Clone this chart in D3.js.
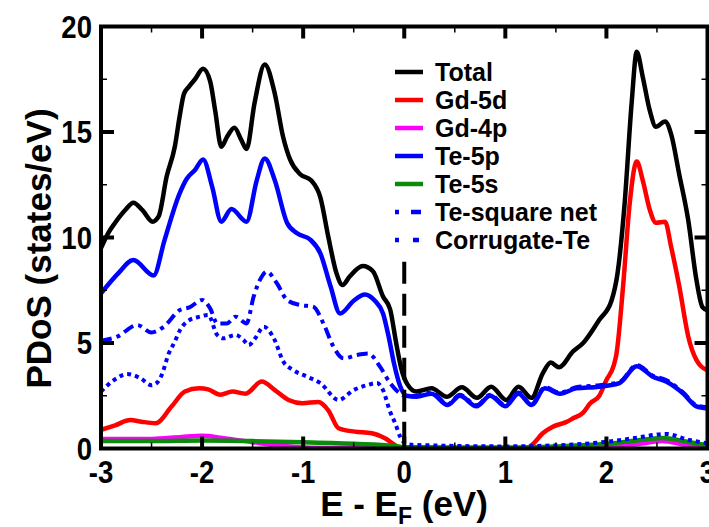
<!DOCTYPE html>
<html>
<head>
<meta charset="utf-8">
<script src="https://cdnjs.cloudflare.com/ajax/libs/d3/7.8.5/d3.min.js"></script>
<style>
  html, body { margin: 0; padding: 0; background: #fff; }
  svg { display: block; font-family: "Liberation Sans", Arial, Helvetica, sans-serif; font-weight: bold; }
</style>
</head>
<body>
<div id="chart"></div>
<script>
// energy (eV) vs PDoS (states/eV)
const total = [[-3.0,9.5],[-2.93,10.2],[-2.86,10.7],[-2.76,11.3],[-2.68,11.65],[-2.59,11.3],[-2.49,10.75],[-2.43,11.0],[-2.35,12.9],[-2.27,14.3],[-2.22,15.8],[-2.18,16.8],[-2.13,17.15],[-2.07,17.5],[-1.99,18.0],[-1.92,17.4],[-1.87,16.0],[-1.81,14.3],[-1.75,14.8],[-1.68,15.2],[-1.61,14.6],[-1.56,14.2],[-1.48,16.4],[-1.38,18.2],[-1.28,16.8],[-1.2,14.8],[-1.13,13.7],[-1.03,13.0],[-0.92,12.7],[-0.83,11.9],[-0.75,10.0],[-0.67,8.3],[-0.61,7.75],[-0.54,8.15],[-0.41,8.65],[-0.31,8.4],[-0.21,7.2],[-0.14,6.6],[-0.08,5.0],[-0.03,3.8],[0.03,3.05],[0.12,2.7],[0.27,2.85],[0.42,2.45],[0.57,2.9],[0.72,2.4],[0.86,2.93],[1.01,2.3],[1.13,2.93],[1.26,2.4],[1.37,3.56],[1.45,4.07],[1.53,3.85],[1.67,4.6],[1.77,5.0],[1.93,6.1],[2.05,7.0],[2.11,8.3],[2.18,11.6],[2.25,16.4],[2.30,18.8],[2.36,17.6],[2.43,16.0],[2.49,15.25],[2.58,15.5],[2.64,14.9],[2.72,13.0],[2.81,10.8],[2.89,8.0],[2.95,6.7],[3.0,6.55]];

const gd5d = [[-3.0,0.88],[-2.86,1.1],[-2.71,1.35],[-2.6,1.27],[-2.46,1.2],[-2.3,2.0],[-2.17,2.7],[-2.03,2.85],[-1.94,2.8],[-1.82,2.55],[-1.7,2.7],[-1.57,2.6],[-1.41,3.17],[-1.28,2.77],[-1.145,2.3],[-1.01,2.15],[-0.85,2.2],[-0.75,1.8],[-0.65,0.96],[-0.49,0.8],[-0.32,0.72],[-0.19,0.48],[-0.06,0.08],[0.0,0.0],[1.2,0.0],[1.27,0.2],[1.37,0.72],[1.47,1.03],[1.6,1.25],[1.67,1.43],[1.77,1.7],[1.84,2.14],[1.93,2.5],[2.0,3.25],[2.07,3.9],[2.1,4.5],[2.165,7.7],[2.23,11.6],[2.3,13.6],[2.36,12.7],[2.43,11.3],[2.49,10.7],[2.58,10.75],[2.64,9.56],[2.72,7.7],[2.81,5.3],[2.89,4.2],[3.0,3.7]];

const gd4p = [[-3.0,0.45],[-2.5,0.45],[-2.2,0.55],[-2.0,0.6],[-1.8,0.5],[-1.5,0.3],[-1.2,0.12],[-1.0,0.05],[-0.5,0.02],[0.0,0.0],[1.5,0.0],[2.0,0.05],[2.3,0.2],[2.55,0.35],[2.8,0.15],[3.0,0.05]];

const te5p = [[-3.0,7.35],[-2.83,8.3],[-2.68,8.93],[-2.48,8.2],[-2.37,9.9],[-2.23,12.0],[-2.15,12.8],[-2.07,13.2],[-1.99,13.7],[-1.9,12.4],[-1.81,10.75],[-1.71,11.35],[-1.56,10.75],[-1.46,12.7],[-1.38,13.75],[-1.28,12.7],[-1.16,10.7],[-1.06,10.2],[-0.93,9.9],[-0.83,9.25],[-0.73,7.7],[-0.635,6.4],[-0.5,7.0],[-0.39,7.3],[-0.29,7.0],[-0.21,6.4],[-0.15,5.2],[-0.1,4.0],[-0.04,2.95],[0.02,2.5],[0.12,2.45],[0.27,2.6],[0.43,2.06],[0.55,2.5],[0.715,2.0],[0.85,2.5],[1.0,2.0],[1.13,2.6],[1.26,2.06],[1.39,2.85],[1.54,2.6],[1.7,2.85],[1.93,2.93],[2.13,3.1],[2.3,3.9],[2.46,3.4],[2.59,3.17],[2.76,2.6],[2.89,2.0],[3.0,1.9]];

const te5s = [[-3.0,0.35],[-2.5,0.35],[-2.0,0.38],[-1.5,0.35],[-1.0,0.3],[-0.5,0.22],[-0.1,0.12],[0.0,0.06],[0.5,0.05],[1.0,0.05],[1.5,0.1],[2.0,0.22],[2.3,0.38],[2.55,0.5],[2.8,0.32],[3.0,0.15]];

const squareNet = [[-3.0,5.1],[-2.84,5.3],[-2.64,5.85],[-2.5,5.5],[-2.38,5.77],[-2.22,6.56],[-2.12,6.7],[-2.0,7.04],[-1.92,6.64],[-1.85,5.93],[-1.755,5.93],[-1.67,6.25],[-1.56,5.93],[-1.49,7.2],[-1.41,8.14],[-1.36,8.38],[-1.26,7.83],[-1.16,7.04],[-1.03,6.8],[-0.9,6.72],[-0.8,5.93],[-0.7,4.82],[-0.6,4.27],[-0.47,4.43],[-0.355,4.5],[-0.24,3.88],[-0.14,3.1],[-0.04,2.6],[0.04,2.45],[0.12,2.5],[0.27,2.65],[0.43,2.1],[0.55,2.55],[0.715,2.05],[0.85,2.55],[1.0,2.05],[1.13,2.65],[1.26,2.1],[1.39,2.9],[1.54,2.65],[1.7,2.9],[1.93,3.0],[2.13,3.15],[2.3,3.95],[2.46,3.45],[2.59,3.25],[2.76,2.65],[2.89,2.05],[3.0,1.95]];

const corrugate = [[-3.0,2.7],[-2.87,3.25],[-2.74,3.53],[-2.61,3.33],[-2.5,3.0],[-2.45,3.1],[-2.4,3.48],[-2.33,4.5],[-2.27,5.06],[-2.22,5.6],[-2.12,6.1],[-2.02,6.25],[-1.94,6.33],[-1.85,5.38],[-1.79,5.22],[-1.67,5.38],[-1.59,5.14],[-1.54,4.9],[-1.475,5.22],[-1.39,5.77],[-1.29,5.22],[-1.195,4.11],[-1.1,3.72],[-0.96,3.4],[-0.83,3.1],[-0.65,2.3],[-0.5,2.77],[-0.37,3.0],[-0.27,3.1],[-0.21,2.77],[-0.14,1.74],[-0.09,1.2],[-0.04,0.56],[0.01,0.25],[0.09,0.17],[1.0,0.1],[1.6,0.17],[2.0,0.32],[2.26,0.48],[2.59,0.69],[2.82,0.4],[3.0,0.25]];

const seriesNames = ["Total", "Gd-5d", "Gd-4p", "Te-5p", "Te-5s", "Te-square net", "Corrugate-Te"];
const seriesColors = ["#000000", "#ff0000", "#ff00ff", "#0000ff", "#0b8a0b", "#0000ff", "#0000ff"];
const seriesDash = [null, null, null, null, null, "11,5,4,5", "4,4"];
const seriesData = [total, gd5d, gd4p, te5p, te5s, squareNet, corrugate];

const xTicks = [-3, -2, -1, 0, 1, 2, 3];
const yTicks = [0, 5, 10, 15, 20];
const xMinor = [-2.5, -1.5, -0.5, 0.5, 1.5, 2.5];
const yMinor = [2.5, 7.5, 12.5, 17.5];
const fermiTop = 8.85;

const W = 709, H = 527;
const mLeft = 101, mRight = 707.5, mTop = 26.5, mBottom = 448.5;

const x = d3.scaleLinear().domain([-3, 3]).range([mLeft, mRight]);
const y = d3.scaleLinear().domain([0, 20]).range([mBottom, mTop]);

const svg = d3.select("#chart").append("svg")
  .attr("width", W).attr("height", H);

svg.append("defs").append("clipPath").attr("id", "clip")
  .append("rect").attr("x", mLeft).attr("y", mTop)
  .attr("width", mRight - mLeft).attr("height", mBottom - mTop);

const line = d3.line()
  .x(d => x(d[0]))
  .y(d => y(d[1]))
  .curve(d3.curveMonotoneX);

const plot = svg.append("g").attr("clip-path", "url(#clip)");

seriesData.forEach((data, i) => {
  plot.append("path")
    .datum(data)
    .attr("d", line)
    .attr("fill", "none")
    .attr("stroke", seriesColors[i])
    .attr("stroke-width", i >= 5 ? 4 : 4.5)
    .attr("stroke-linejoin", "round")
    .attr("stroke-dasharray", seriesDash[i]);
});

// Fermi level
plot.append("line")
  .attr("x1", x(0)).attr("x2", x(0))
  .attr("y1", y(fermiTop)).attr("y2", y(0))
  .attr("stroke", "#000").attr("stroke-width", 4)
  .attr("stroke-dasharray", "22,10");

// axes with inward ticks on all four sides
const ax = svg.append("g");
const tick = (x1, y1, x2, y2, w) => ax.append("line")
  .attr("x1", x1).attr("y1", y1).attr("x2", x2).attr("y2", y2)
  .attr("stroke", "#000").attr("stroke-width", w);

xTicks.slice(1, -1).forEach(t => {
  tick(x(t), mBottom, x(t), mBottom - 12, 4);
  tick(x(t), mTop, x(t), mTop + 12, 4);
});
xMinor.forEach(t => {
  tick(x(t), mBottom, x(t), mBottom - 6, 1.5);
  tick(x(t), mTop, x(t), mTop + 6, 1.5);
});
yTicks.slice(1, -1).forEach(t => {
  tick(mLeft, y(t), mLeft + 13, y(t), 4);
  tick(mRight, y(t), mRight - 13, y(t), 4);
});
yMinor.forEach(t => {
  tick(mLeft, y(t), mLeft + 6, y(t), 1.5);
  tick(mRight, y(t), mRight - 6, y(t), 1.5);
});

ax.append("rect")
  .attr("x", mLeft).attr("y", mTop)
  .attr("width", mRight - mLeft).attr("height", mBottom - mTop)
  .attr("fill", "none").attr("stroke", "#000").attr("stroke-width", 4);

// tick labels (slightly tall glyphs, as in the original)
svg.append("g").selectAll("text").data(xTicks).join("text")
  .attr("transform", d => `translate(${x(d)},483) scale(0.95,1.08)`)
  .attr("text-anchor", "middle")
  .attr("font-size", 29)
  .text(d => d);

svg.append("g").selectAll("text").data(yTicks).join("text")
  .attr("transform", d => `translate(92,${y(d) + 11}) scale(0.95,1.08)`)
  .attr("text-anchor", "end")
  .attr("font-size", 29)
  .text(d => d);

// axis titles
svg.append("text")
  .attr("transform", `translate(51,${(mTop + mBottom) / 2 + 11}) rotate(-90)`)
  .attr("text-anchor", "middle")
  .attr("font-size", 35)
  .text("PDoS (states/eV)");

const xt = svg.append("text")
  .attr("x", 404).attr("y", 516)
  .attr("text-anchor", "middle")
  .attr("font-size", 35);
xt.append("tspan").text("E - E");
xt.append("tspan").attr("font-size", 23).attr("dy", 8).text("F");
xt.append("tspan").attr("dy", -8).text(" (eV)");

// legend
const leg = svg.append("g");
seriesNames.forEach((name, i) => {
  const ly = 72 + i * 28;
  leg.append("line")
    .attr("x1", 395).attr("x2", 423)
    .attr("y1", ly).attr("y2", ly)
    .attr("stroke", seriesColors[i]).attr("stroke-width", 4.5)
    .attr("stroke-dasharray", i === 5 ? "4,12,10,2" : i === 6 ? "4,14,6,4" : null);
  leg.append("text")
    .attr("x", 435).attr("y", ly + 9)
    .attr("font-size", 25)
    .text(name);
});
</script>
</body>
</html>
